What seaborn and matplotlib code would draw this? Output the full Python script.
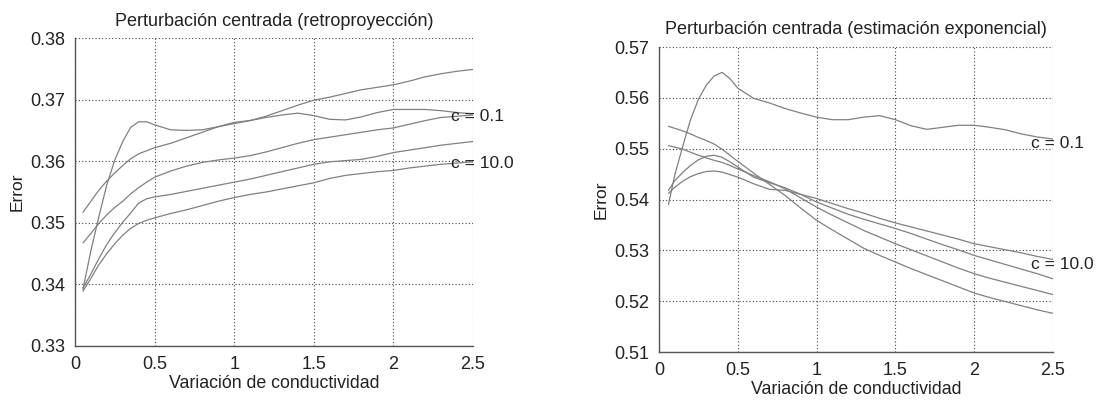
import numpy as np
import pandas as pd
import matplotlib
matplotlib.use("Agg")
import matplotlib.pyplot as plt
import seaborn as sns

# ---------------- data ----------------
x_left = [0.05, 0.1, 0.15, 0.2, 0.25, 0.3, 0.35, 0.4, 0.45, 0.5, 0.6, 0.7, 0.8, 0.9, 1.0,
          1.1, 1.2, 1.3, 1.4, 1.5, 1.6, 1.7, 1.8, 1.9, 2.0, 2.1, 2.2, 2.3, 2.4, 2.5]

retro_1 = [0.3517, 0.3535, 0.3553, 0.3568, 0.3581, 0.3593, 0.3604, 0.3612, 0.3617, 0.3622,
           0.3629, 0.3638, 0.3647, 0.3656, 0.3663, 0.3666, 0.3673, 0.3682, 0.3691, 0.3699,
           0.3704, 0.3710, 0.3716, 0.3720, 0.3724, 0.3730, 0.3737, 0.3742, 0.3746, 0.3749]
retro_2 = [0.3392, 0.3455, 0.3510, 0.3562, 0.3602, 0.3632, 0.3655, 0.3664, 0.3664, 0.3659,
           0.3651, 0.3650, 0.3651, 0.3656, 0.3661, 0.3666, 0.3671, 0.3675, 0.3678, 0.3674,
           0.3668, 0.3667, 0.3672, 0.3679, 0.3684, 0.3684, 0.3684, 0.3682, 0.3679, 0.3677]
retro_3 = [0.3467, 0.3483, 0.3499, 0.3513, 0.3525, 0.3535, 0.3547, 0.3557, 0.3566, 0.3574,
           0.3584, 0.3592, 0.3598, 0.3602, 0.3605, 0.3609, 0.3615, 0.3622, 0.3629, 0.3635,
           0.3639, 0.3643, 0.3647, 0.3651, 0.3654, 0.3660, 0.3666, 0.3671, 0.3673, 0.3675]
retro_4 = [0.3394, 0.3417, 0.3442, 0.3465, 0.3484, 0.3501, 0.3516, 0.3532, 0.3539, 0.3542,
           0.3546, 0.3551, 0.3556, 0.3561, 0.3566, 0.3571, 0.3577, 0.3583, 0.3589, 0.3595,
           0.3599, 0.3601, 0.3603, 0.3608, 0.3614, 0.3618, 0.3622, 0.3626, 0.3629, 0.3632]
retro_5 = [0.3389, 0.3410, 0.3432, 0.3450, 0.3466, 0.3480, 0.3491, 0.3499, 0.3504, 0.3508,
           0.3515, 0.3521, 0.3528, 0.3535, 0.3541, 0.3546, 0.3550, 0.3555, 0.3560, 0.3565,
           0.3572, 0.3577, 0.3580, 0.3583, 0.3585, 0.3589, 0.3592, 0.3595, 0.3597, 0.3599]

x_right = [0.06, 0.1, 0.15, 0.2, 0.25, 0.3, 0.35, 0.4, 0.45, 0.5, 0.6, 0.7, 0.8, 0.9, 1.0,
           1.1, 1.2, 1.3, 1.4, 1.5, 1.6, 1.7, 1.8, 1.9, 2.0, 2.1, 2.2, 2.3, 2.4, 2.5]

expo_1 = [0.5390, 0.5448, 0.5504, 0.5557, 0.5597, 0.5625, 0.5643, 0.5650, 0.5638, 0.5619,
          0.5599, 0.5590, 0.5579, 0.5570, 0.5562, 0.5557, 0.5557, 0.5562, 0.5565, 0.5557,
          0.5545, 0.5538, 0.5542, 0.5546, 0.5546, 0.5542, 0.5537, 0.5529, 0.5523, 0.5519]
expo_2 = [0.5544, 0.5540, 0.5535, 0.5529, 0.5522, 0.5516, 0.5509, 0.5499, 0.5487, 0.5475,
          0.5452, 0.5430, 0.5408, 0.5383, 0.5359, 0.5340, 0.5322, 0.5304, 0.5290, 0.5277,
          0.5264, 0.5252, 0.5240, 0.5228, 0.5216, 0.5207, 0.5199, 0.5191, 0.5183, 0.5176]
expo_3 = [0.5506, 0.5503, 0.5499, 0.5493, 0.5487, 0.5482, 0.5477, 0.5473, 0.5467, 0.5460,
          0.5447, 0.5435, 0.5421, 0.5403, 0.5385, 0.5369, 0.5354, 0.5339, 0.5326, 0.5313,
          0.5301, 0.5289, 0.5277, 0.5265, 0.5254, 0.5245, 0.5237, 0.5229, 0.5221, 0.5213]
expo_4 = [0.5418, 0.5437, 0.5453, 0.5467, 0.5478, 0.5485, 0.5487, 0.5483, 0.5474, 0.5464,
          0.5444, 0.5433, 0.5423, 0.5410, 0.5395, 0.5383, 0.5371, 0.5361, 0.5352, 0.5343,
          0.5333, 0.5322, 0.5311, 0.5301, 0.5290, 0.5281, 0.5272, 0.5263, 0.5254, 0.5244]
expo_5 = [0.5412, 0.5424, 0.5436, 0.5445, 0.5451, 0.5455, 0.5456, 0.5454, 0.5449, 0.5444,
          0.5431, 0.5420, 0.5418, 0.5410, 0.5402, 0.5392, 0.5382, 0.5373, 0.5363, 0.5354,
          0.5346, 0.5338, 0.5330, 0.5322, 0.5313, 0.5307, 0.5301, 0.5295, 0.5288, 0.5282]

x_ticks = [0, 0.5, 1, 1.5, 2, 2.5]
x_tick_labels = ["0", "0.5", "1", "1.5", "2", "2.5"]
y_ticks_left = [0.33, 0.34, 0.35, 0.36, 0.37, 0.38]
y_tick_labels_left = ["0.33", "0.34", "0.35", "0.36", "0.37", "0.38"]
y_ticks_right = [0.51, 0.52, 0.53, 0.54, 0.55, 0.56, 0.57]
y_tick_labels_right = ["0.51", "0.52", "0.53", "0.54", "0.55", "0.56", "0.57"]

title_left = "Perturbación centrada (retroproyección)"
title_right = "Perturbación centrada (estimación exponencial)"
x_label = "Variación de conductividad"
y_label = "Error"
label_low = "c = 0.1"
label_high = "c = 10.0"

# ---------------- style ----------------
sns.set_style("white")
plt.rcParams["font.family"] = ["Liberation Sans", "DejaVu Sans"]
TEXT = "#222222"
LINE = "#808080"

fig = plt.figure(figsize=(11.01, 4.0), dpi=100)
ax_l = fig.add_axes([75 / 1101, 1 - 346 / 400, 398 / 1101, 308 / 400])
ax_r = fig.add_axes([659 / 1101, 1 - 352 / 400, 394 / 1101, 305 / 400])


def draw(ax, xs, series, yticks, ylabels, title, ylim, ann_low, ann_high):
    frames = []
    for i, s in enumerate(series):
        frames.append(pd.DataFrame({"x": xs, "y": s, "serie": f"s{i}"}))
    df = pd.concat(frames, ignore_index=True)
    sns.lineplot(data=df, x="x", y="y", units="serie", estimator=None,
                 color=LINE, linewidth=0.9, ax=ax, legend=False)
    ax.set_xlim(0, 2.5)
    ax.set_ylim(*ylim)
    ax.set_xticks(x_ticks)
    ax.set_xticklabels(x_tick_labels)
    ax.set_yticks(yticks)
    ax.set_yticklabels(ylabels)
    ax.tick_params(direction="in", length=3, width=0.8, labelsize=13,
                   colors="#555555", labelcolor=TEXT, pad=7)
    ax.grid(True, linestyle=(0, (1, 2.0)), color="#444444", linewidth=0.8)
    for side in ["top", "right"]:
        ax.spines[side].set_visible(False)
    for side in ["left", "bottom"]:
        ax.spines[side].set_color("#555555")
        ax.spines[side].set_linewidth(1.0)
    ax.set_title(title, fontsize=13, color=TEXT, pad=9)
    ax.set_xlabel(x_label, fontsize=12.8, color=TEXT, labelpad=2)
    ax.set_ylabel(y_label, fontsize=12.5, color=TEXT, labelpad=4)
    ax.text(2.36, ann_low, label_low, fontsize=12.5, color=TEXT, va="center",
            ha="left", clip_on=False)
    ax.text(2.36, ann_high, label_high, fontsize=12.5, color=TEXT, va="center",
            ha="left", clip_on=False)


draw(ax_l, x_left, [retro_1, retro_2, retro_3, retro_4, retro_5],
     y_ticks_left, y_tick_labels_left, title_left, (0.33, 0.38), 0.3672, 0.3597)
draw(ax_r, x_right, [expo_1, expo_2, expo_3, expo_4, expo_5],
     y_ticks_right, y_tick_labels_right, title_right, (0.51, 0.57), 0.5511, 0.5273)

fig.savefig("out.png", dpi=100, facecolor="white")
